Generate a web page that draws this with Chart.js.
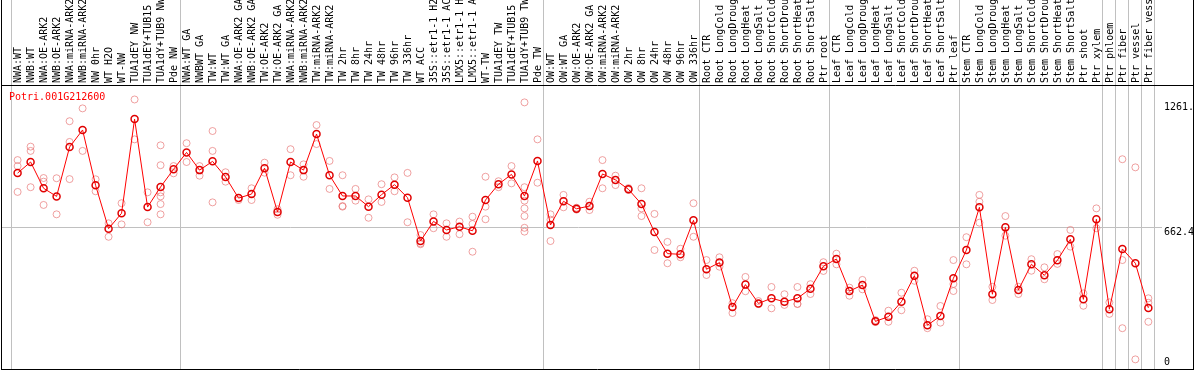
<!DOCTYPE html>
<html>
<head>
<meta charset="utf-8">
<script src="https://cdn.jsdelivr.net/npm/chart.js@4/dist/chart.umd.min.js"></script>
<style>
  html, body { margin: 0; padding: 0; background: #fff; }
  canvas { display: block; }
</style>
</head>
<body>
<canvas id="myChart" width="1194" height="370"></canvas>
<script>
const geneName = 'Potri.001G212600';

const categories = [
  'NWA:WT', 'NWB:WT', 'NWA:OE-ARK2', 'NWB:OE-ARK2', 'NWA:miRNA-ARK2', 'NWB:miRNA-ARK2',
  'NW 0hr', 'WT H2O', 'WT-NW', 'TUA1dEY NW', 'TUA1dEY+TUB15 NW', 'TUA1dY+TUB9 NW', 'Pde NW',
  'NWA:WT GA', 'NWBWT GA', 'TW:WT', 'TW:WT GA', 'NWA:OE-ARK2 GA', 'NWB:OE-ARK2 GA',
  'TW:OE-ARK2', 'TW:OE-ARK2 GA', 'NWA:miRNA-ARK2 GA', 'NWB:miRNA-ARK2 GA', 'TW:miRNA-ARK2',
  'TW:miRNA-ARK2 GA', 'TW 2hr', 'TW 8hr', 'TW 24hr', 'TW 48hr', 'TW 96hr', 'TW 336hr',
  'WT ACC', '35S::etr1-1 H2O', '35S::etr1-1 ACC', 'LMX5::etr1-1 H2O', 'LMX5::etr1-1 ACC',
  'WT-TW', 'TUA1dEY TW', 'TUA1dEY+TUB15 TW', 'TUA1dY+TUB9 TW', 'Pde TW',
  'OW:WT', 'OW:WT GA', 'OW:OE-ARK2', 'OW:OE-ARK2 GA', 'OW:miRNA-ARK2', 'OW:miRNA-ARK2 GA',
  'OW 2hr', 'OW 8hr', 'OW 24hr', 'OW 48hr', 'OW 96hr', 'OW 336hr',
  'Root CTR', 'Root LongCold', 'Root LongDrought', 'Root LongHeat', 'Root LongSalt',
  'Root ShortCold', 'Root ShortDrought', 'Root ShortHeat', 'Root ShortSalt', 'Ptr root',
  'Leaf CTR', 'Leaf LongCold', 'Leaf LongDrought', 'Leaf LongHeat', 'Leaf LongSalt',
  'Leaf ShortCold', 'Leaf ShortDrought', 'Leaf ShortHeat', 'Leaf ShortSalt', 'Ptr leaf',
  'Stem CTR', 'Stem LongCold', 'Stem LongDrought', 'Stem LongHeat', 'Stem LongSalt',
  'Stem ShortCold', 'Stem ShortDrought', 'Stem ShortHeat', 'Stem ShortSalt',
  'Ptr shoot', 'Ptr xylem', 'Ptr phloem', 'Ptr fiber', 'Ptr vessel', 'Ptr fiber vessel'
];

// mean expression per sample (red line)
const means = [
  917, 969, 846, 808, 1039, 1119, 860, 657, 729, 1170,
  758, 852, 935, 1014, 931, 972, 899, 800, 819, 940,
  735, 969, 931, 1100, 907, 810, 810, 760, 816, 863,
  802, 599, 691, 651, 666, 647, 791, 865, 911, 810,
  974, 674, 785, 750, 763, 913, 885, 841, 772, 641,
  540, 537, 696, 467, 498, 290, 395, 307, 331, 315,
  331, 376, 481, 515, 365, 393, 223, 245, 315, 437,
  205, 248, 425, 557, 757, 350, 663, 370, 490, 439,
  509, 607, 326, 701, 280, 562, 495, 286
];

// single replicates (pink circles)
const replicates = [
  [978, 950, 829], [1041, 1021, 851], [894, 877, 768], [893, 724], [1160, 1063, 889],
  [1220, 1021], [888, 832], [682, 619], [776, 677], [1261.7, 1075],
  [827, 687], [1047, 954, 827, 808, 772, 724], [950, 916], [1057, 969], [950, 905],
  [1114, 1021, 780], [921, 877], [801, 791], [846, 791], [966, 919],
  [748, 722], [1029, 907], [958, 900], [1142, 1053], [974, 843],
  [907, 763, 760], [843, 788], [794, 708], [865, 782], [897, 832],
  [918, 687], [627, 588, 584], [724, 659], [682, 619], [690, 631],
  [713, 679, 549], [900, 760, 701], [879, 851], [950, 869], [1248, 851, 788, 752, 716, 661, 643],
  [1075, 872], [724, 699, 599], [815, 757], [755, 746], [783, 744],
  [978, 846], [905, 861], [847, 838], [846, 752, 716], [726, 557],
  [595, 495], [563, 523], [776, 619], [510, 440], [523, 479],
  [308, 262], [431, 364], [318, 304], [384, 284], [350, 300],
  [384, 304, 305], [397, 351], [500, 459], [540, 490], [381, 343],
  [417, 373], [229, 220], [273, 221], [357, 275], [460, 413],
  [233, 191], [295, 217], [510, 398, 365], [617, 490], [815, 783, 685],
  [385, 323], [716, 624], [385, 351], [514, 460], [476, 420],
  [538, 492], [651, 573], [354, 296], [752, 659], [312, 258],
  [982, 510, 191], [944, 45], [331, 310, 221]
];

// sample index where a new group starts (grey separators)
const groupStarts = [0, 13, 41, 53, 63, 73, 84, 85, 86, 87, 88];

const yMax = 1324.8;
const yGridValues = [662.4];
const yTickLabels = ['0', '662.4', '1261.'];

const monoFont = { family: '"DejaVu Sans Mono", monospace', size: 10 };

function separatorColor(ctx) {
  const i = ctx.type === 'tick' ? ctx.index : categories.length;
  return groupStarts.includes(i) ? '#c0c0c0' : 'rgba(0,0,0,0)';
}

// drop the extra space chart.js keeps for label overhang
function noPadding(scale) {
  scale.paddingTop = 0;
  scale.paddingBottom = 0;
  scale.paddingLeft = 0;
  scale.paddingRight = 0;
}

// black frame and gene name
const framePlugin = {
  id: 'frame',
  afterDraw(chart) {
    const c = chart.ctx;
    const a = chart.chartArea;
    c.save();
    c.strokeStyle = '#000';
    c.lineWidth = 1;
    c.beginPath();
    c.moveTo(1, a.top - 0.5); c.lineTo(chart.width, a.top - 0.5);
    c.moveTo(1, a.bottom + 0.5); c.lineTo(chart.width, a.bottom + 0.5);
    c.moveTo(1.5, 0); c.lineTo(1.5, chart.height);
    c.moveTo(chart.width - 0.5, 0); c.lineTo(chart.width - 0.5, chart.height);
    c.stroke();
    c.fillStyle = '#ff0000';
    c.font = '10px "DejaVu Sans Mono", monospace';
    c.textBaseline = 'middle';
    c.fillText(geneName, a.left + 7, a.top + 11);
    c.restore();
  }
};

const ctx = document.getElementById('myChart').getContext('2d');
const myChart = new Chart(ctx, {
  type: 'line',
  data: {
    datasets: [
      {
        label: 'mean',
        data: means.map((v, i) => ({ x: i, y: v })),
        borderColor: '#ff0000',
        borderWidth: 1,
        pointRadius: 3.5,
        pointBorderWidth: 1.5,
        pointBorderColor: '#e00000',
        pointBackgroundColor: 'rgba(0,0,0,0)',
        tension: 0,
        order: 0
      },
      {
        label: 'replicates',
        data: replicates.flatMap((arr, i) => arr.map(v => ({ x: i, y: v }))),
        showLine: false,
        pointRadius: 3.5,
        pointBorderWidth: 1,
        pointBorderColor: 'rgba(230,110,110,0.65)',
        pointBackgroundColor: 'rgba(0,0,0,0)',
        order: 1
      }
    ]
  },
  options: {
    responsive: false,
    animation: false,
    devicePixelRatio: 1,
    layout: { autoPadding: false, padding: { left: 2, right: 0, top: 0, bottom: 1 } },
    plugins: {
      legend: { display: false },
      tooltip: { enabled: false }
    },
    scales: {
      x: {
        type: 'linear',
        position: 'top',
        min: -1.2,
        max: 87.51,
        bounds: 'data',
        afterBuildTicks: scale => { scale.ticks = categories.map((_, i) => ({ value: i })); },
        afterFit: scale => { scale.height = 86; noPadding(scale); },
        border: { display: false },
        grid: {
          offset: true,
          color: separatorColor,
          tickColor: separatorColor,
          tickLength: 86,
          lineWidth: 1
        },
        ticks: {
          autoSkip: false,
          minRotation: 90,
          maxRotation: 90,
          padding: -83,
          labelOffset: 13,
          color: '#000',
          font: monoFont,
          callback: v => categories[v]
        }
      },
      y: {
        position: 'right',
        weight: 0,
        min: 0,
        max: yMax,
        afterBuildTicks: scale => { scale.ticks = yGridValues.map(v => ({ value: v })); },
        afterFit: scale => { scale.width = 7; noPadding(scale); },
        border: { display: false },
        grid: { color: '#c0c0c0', tickLength: 7 },
        ticks: { display: false }
      },
      yLab: {
        position: 'right',
        weight: 1,
        min: 0,
        max: yMax,
        // label anchors sit a few pixels off the values, as in the original
        afterBuildTicks: scale => { scale.ticks = [33, 639, 1224].map(v => ({ value: v })); },
        afterFit: scale => { scale.width = 32; noPadding(scale); },
        border: { display: false },
        grid: { display: false, drawTicks: false },
        ticks: {
          padding: 2,
          color: '#000',
          font: monoFont,
          callback: (v, i) => yTickLabels[i]
        }
      }
    }
  },
  plugins: [framePlugin]
});
</script>
</body>
</html>
